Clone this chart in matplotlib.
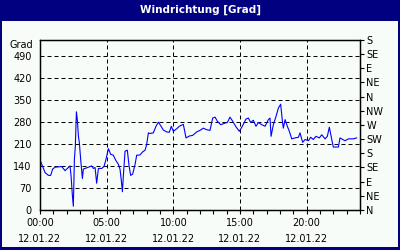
import matplotlib
matplotlib.use("Agg")
import matplotlib.pyplot as plt
from matplotlib.patches import Rectangle

# ---- data (hours since 00:00 on 12.01.22, wind direction in degrees) ----
hours = [0.0, 0.2, 0.38, 0.63, 0.8, 0.95, 1.13, 1.38, 1.63, 1.75, 1.88, 2.05, 2.25,
         2.33, 2.43, 2.5, 2.58, 2.65, 2.73, 2.8, 2.88, 2.95, 3.05, 3.18, 3.25, 3.38,
         3.63, 3.88, 4.0, 4.13, 4.25, 4.38, 4.63, 4.8, 4.95, 5.13, 5.3, 5.5, 5.68,
         5.88, 6.0, 6.1, 6.18, 6.25, 6.38, 6.55, 6.68, 6.8, 6.95, 7.13, 7.25, 7.5,
         7.68, 7.88, 8.0, 8.13, 8.25, 8.5, 8.7, 8.88, 9.05, 9.25, 9.5, 9.7, 9.85,
         10.0, 10.25, 10.45, 10.75, 10.95, 11.2, 11.45, 11.75, 12.0, 12.25, 12.5,
         12.75, 12.95, 13.13, 13.3, 13.55, 13.88, 14.05, 14.25, 14.45, 14.7, 14.95,
         15.2, 15.45, 15.63, 15.8, 16.0, 16.2, 16.38, 16.63, 16.88, 17.13, 17.25,
         17.33, 17.5, 17.7, 17.88, 18.05, 18.18, 18.25, 18.38, 18.55, 18.7, 18.88,
         19.13, 19.38, 19.5, 19.7, 19.88, 20.13, 20.3, 20.5, 20.7, 20.95, 21.13,
         21.38, 21.55, 21.7, 21.88, 22.0, 22.38, 22.5, 22.7, 22.88, 23.13, 23.5,
         23.75]
direction = [159, 138, 119, 110, 110, 130, 136, 137, 138, 132, 125, 132, 140,
             108, 45, 12, 161, 203, 312, 287, 235, 214, 161, 100, 130, 132,
             136, 140, 132, 135, 85, 132, 132, 138, 161, 195, 177, 174, 158,
             145, 130, 93, 58, 108, 187, 190, 140, 110, 114, 145, 174, 175,
             184, 190, 208, 245, 243, 245, 266, 279, 268, 254, 248, 247, 266,
             250, 258, 266, 272, 229, 235, 237, 248, 253, 260, 255,
             253, 292, 295, 282, 271, 276, 278, 295, 282, 264, 250,
             268, 289, 292, 278, 285, 266, 278, 271, 266, 287, 292,
             234, 271, 297, 324, 336, 282, 260, 287, 266, 250, 226,
             229, 231, 245, 215, 224, 220, 231, 224, 234, 229, 239,
             226, 234, 263, 224, 200, 200, 229, 224, 220, 226, 226,
             229]

left_ticks = [0, 70, 140, 210, 280, 350, 420, 490]
right_ticks = [0, 45, 90, 135, 180, 225, 270, 315, 360, 405, 450, 495, 540]
right_labels = ["N", "NE", "E", "SE", "S", "SW", "W", "NW", "N", "NE", "E", "SE", "S"]
x_major = [0, 5, 10, 15, 20]
x_labels = ["00:00\n12.01.22", "05:00\n12.01.22", "10:00\n12.01.22",
            "15:00\n12.01.22", "20:00\n12.01.22"]
x_minor = list(range(0, 25))

NAVY = "#000080"
BG = "#F8FCF8"

fig = plt.figure(figsize=(4, 2.5), dpi=100, facecolor=NAVY)
fig.patches.append(Rectangle((2 / 400, 3 / 250), 396 / 400, (250 - 21 - 3) / 250,
                             transform=fig.transFigure, facecolor=BG,
                             edgecolor="none", zorder=-10))
fig.text(0.5, 1 - 10 / 250, "Windrichtung [Grad]", color="white", fontsize=7.5,
         fontweight="bold", ha="center", va="center")

ax = fig.add_axes([40 / 400, 1 - 210 / 250, 320 / 400, 170 / 250])
ax.set_facecolor(BG)
ax.plot(hours, direction, color="#0000FF", lw=0.8, zorder=3)

ax.set_xlim(0, 24)
ax.set_ylim(0, 540)

ax.set_yticks(left_ticks)
ax.set_yticklabels([str(t) for t in left_ticks])
ax.tick_params(axis="y", which="both", length=0, pad=6, labelsize=7, colors="black")

ax.set_xticks(x_major)
ax.set_xticklabels(x_labels, linespacing=1.75)
ax.set_xticks(x_minor, minor=True)
ax.tick_params(axis="x", which="both", direction="out", length=3, width=0.8,
               pad=3, labelsize=7)

for t in left_ticks[1:]:
    ax.axhline(t, color="black", lw=0.72, ls=(0, (4, 3)), zorder=2)
for t in x_major[1:]:
    ax.axvline(t, color="black", lw=0.72, ls=(0, (4, 3)), zorder=2)

ax.text(-0.022, 525, "Grad", transform=ax.get_yaxis_transform(), ha="right",
        va="center", fontsize=7)

ax2 = ax.twinx()
ax2.set_ylim(0, 540)
ax2.set_yticks(right_ticks)
ax2.set_yticklabels(right_labels)
ax2.tick_params(axis="y", direction="out", length=3, width=0.8, pad=1.5, labelsize=7)

for a in (ax, ax2):
    for s in a.spines.values():
        s.set_color("black")
        s.set_linewidth(0.9)

fig.savefig("out.png", dpi=100, facecolor=NAVY)
